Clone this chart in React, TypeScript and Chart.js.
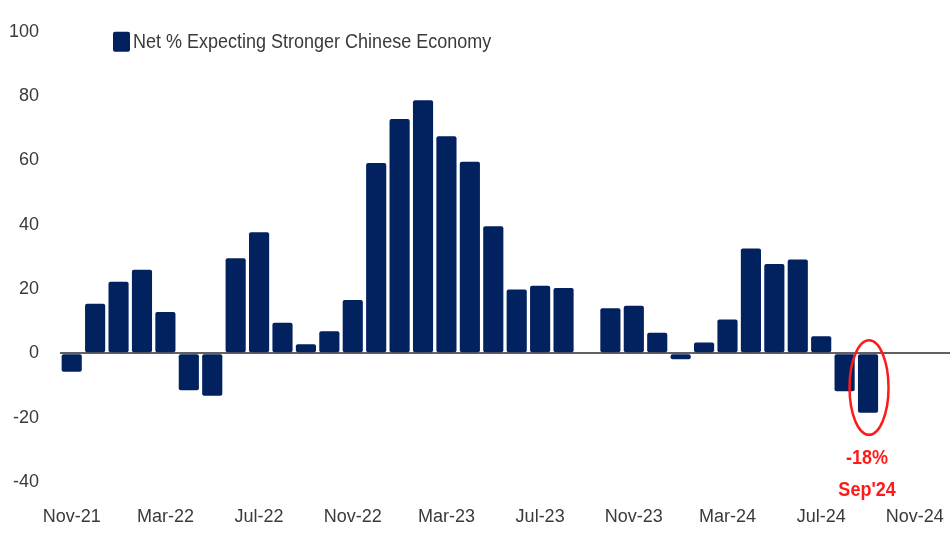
import React, { useEffect, useRef } from 'react';
import { Chart, registerables } from 'chart.js';

Chart.register(...registerables);

// ---- data ----
const months = [
  'Nov-21', 'Dec-21',
  'Jan-22', 'Feb-22', 'Mar-22', 'Apr-22', 'May-22', 'Jun-22', 'Jul-22', 'Aug-22', 'Sep-22', 'Oct-22', 'Nov-22', 'Dec-22',
  'Jan-23', 'Feb-23', 'Mar-23', 'Apr-23', 'May-23', 'Jun-23', 'Jul-23', 'Aug-23', 'Sep-23', 'Oct-23', 'Nov-23', 'Dec-23',
  'Jan-24', 'Feb-24', 'Mar-24', 'Apr-24', 'May-24', 'Jun-24', 'Jul-24', 'Aug-24', 'Sep-24', 'Oct-24', 'Nov-24', 'Dec-24',
];

const netExpectingStronger: (number | null)[] = [
  -5.7, 15.4,
  22.3, 26.0, 12.9, -11.5, -13.2, 29.6, 37.7, 9.5, 2.8, 6.9, 16.6, 59.2,
  72.9, 78.7, 67.5, 59.6, 39.5, 19.9, 21.0, 20.3, null, 14.0, 14.8, 6.4,
  -1.8, 3.4, 10.5, 32.6, 27.8, 29.2, 5.3, -11.8, -18.5, null, null, null,
];

const xTickLabels = ['Nov-21', 'Mar-22', 'Jul-22', 'Nov-22', 'Mar-23', 'Jul-23', 'Nov-23', 'Mar-24', 'Jul-24', 'Nov-24'];
const yTickValues = [-40, -20, 0, 20, 40, 60, 80, 100];
const seriesLabel = 'Net % Expecting Stronger Chinese Economy';
const highlightMonth = 'Sep-24';
const highlightText = ['-18%', "Sep'24"];

const FONT = "'Liberation Sans', Arial, sans-serif";
const NAVY = '#02215f';
const TEXT = '#3a3a3a';
const RED = '#ff1a1a';

function narrowText(ctx: any, text: string, x: number, y: number, squeeze: number) {
  ctx.save();
  ctx.translate(x, y);
  ctx.scale(squeeze, 1);
  ctx.fillText(text, 0, 0);
  ctx.restore();
}

const legendPlugin = {
  id: 'customLegend',
  afterDraw(chart: any) {
    const { ctx, chartArea } = chart;
    const x = chartArea.left + 53;
    const y = chartArea.top;
    ctx.save();
    ctx.fillStyle = NAVY;
    ctx.beginPath();
    if (ctx.roundRect) ctx.roundRect(x, y, 17, 20, 2); else ctx.rect(x, y, 17, 20);
    ctx.fill();
    ctx.fillStyle = TEXT;
    ctx.font = `20px ${FONT}`;
    ctx.textBaseline = 'middle';
    ctx.textAlign = 'left';
    narrowText(ctx, chart.data.datasets[0].label, x + 20, y + 11, 0.9);
    ctx.restore();
  },
};

const highlightPlugin = {
  id: 'highlight',
  afterDatasetsDraw(chart: any) {
    const { ctx, scales } = chart;
    const idx = months.indexOf(highlightMonth);
    const v = netExpectingStronger[idx] as number;
    const x = scales.x.getPixelForValue(idx);
    const y0 = scales.y.getPixelForValue(0);
    const y1 = scales.y.getPixelForValue(v);
    const top = y0 - 13;
    const bottom = y1 + 22;
    ctx.save();
    ctx.strokeStyle = RED;
    ctx.lineWidth = 2.5;
    ctx.beginPath();
    ctx.ellipse(x + 1, (top + bottom) / 2, 19.5, (bottom - top) / 2, 0, 0, Math.PI * 2);
    ctx.stroke();
    ctx.fillStyle = RED;
    ctx.font = `bold 20px ${FONT}`;
    ctx.textAlign = 'center';
    ctx.textBaseline = 'middle';
    narrowText(ctx, highlightText[0], x - 1, bottom + 24, 0.9);
    narrowText(ctx, highlightText[1], x - 1, bottom + 56, 0.9);
    ctx.restore();
  },
};

export default function App() {
  const ref = useRef<HTMLCanvasElement | null>(null);
  useEffect(() => {
    document.body.style.margin = '0';
    const canvas = ref.current;
    if (!canvas) return;
    const chart = new Chart(canvas, {
      type: 'bar',
      data: {
        labels: months,
        datasets: [
          {
            label: seriesLabel,
            data: netExpectingStronger,
            backgroundColor: NAVY,
            borderColor: NAVY,
            borderWidth: 0,
            borderRadius: 2,
            borderSkipped: false,
            categoryPercentage: 1,
            barPercentage: 0.86,
          },
        ],
      },
      options: {
        animation: false,
        responsive: false,
        maintainAspectRatio: false,
        layout: { padding: { top: 1, left: 8, right: 0, bottom: 5 } },
        plugins: {
          legend: { display: false },
          tooltip: { enabled: false },
        },
        scales: {
          x: {
            type: 'category',
            offset: true,
            grid: { display: false, drawTicks: false },
            border: { display: false },
            afterFit: (scale: any) => {
              scale.height = 47;
              scale.paddingLeft = 0;
              scale.paddingRight = 0;
            },
            ticks: {
              autoSkip: false,
              maxRotation: 0,
              padding: 24,
              color: TEXT,
              font: { family: FONT, size: 18 },
              callback: (_v: any, i: number) => (xTickLabels.includes(months[i]) ? months[i] : ''),
            },
          },
          y: {
            min: -40,
            max: 100,
            z: 1,
            afterBuildTicks: (scale: any) => {
              scale.ticks = yTickValues.map((value) => ({ value }));
            },
            afterFit: (scale: any) => {
              scale.width = 52;
            },
            grid: {
              drawTicks: false,
              lineWidth: 2,
              color: (c: any) => (c.tick && c.tick.value === 0 ? 'rgba(0,0,0,0.62)' : 'rgba(0,0,0,0)'),
            },
            border: { display: false },
            ticks: {
              padding: 21,
              color: TEXT,
              font: { family: FONT, size: 18 },
            },
          },
        },
      },
      plugins: [legendPlugin, highlightPlugin],
    } as any);
    return () => chart.destroy();
  }, []);
  return (
    <div style={{ width: 950, height: 534, background: '#fff' }}>
      <canvas ref={ref} width={950} height={534} style={{ display: 'block' }} />
    </div>
  );
}
